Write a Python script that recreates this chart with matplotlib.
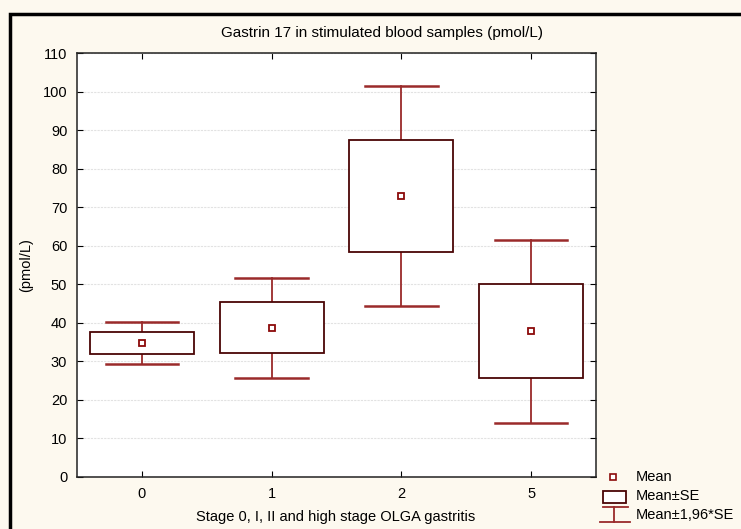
import matplotlib.pyplot as plt
from matplotlib.patches import Rectangle
from matplotlib.lines import Line2D

plt.rcParams['font.family'] = ['Liberation Sans', 'DejaVu Sans']

groups = ['0', '1', '2', '5']
means = [34.7, 38.7, 72.9, 37.8]
se = [2.8, 6.6, 14.6, 12.2]
se196 = [5.5, 12.9, 28.6, 23.8]

W, H = 741, 529
bg = '#fdf9ef'
box_col = '#4a0505'
wh_col = '#9a2a2a'
fs = 10.5

fig = plt.figure(figsize=(W / 100, H / 100), dpi=100, facecolor=bg)

# outer frame
fig.patches.append(Rectangle((10 / W, -0.1), 1.2, (H - 14) / H + 0.1, transform=fig.transFigure,
                             fill=False, edgecolor='black', linewidth=2.5))

ax = fig.add_axes([77 / W, (H - 477) / H, (596 - 77) / W, (477 - 53) / H])
ax.set_facecolor('white')

x = list(range(len(groups)))
for i in x:
    m, s, w = means[i], se[i], se196[i]
    ax.plot([i, i], [m + s, m + w], color=wh_col, lw=1.3, zorder=2)
    ax.plot([i, i], [m - w, m - s], color=wh_col, lw=1.3, zorder=2)
    ax.plot([i - 0.28, i + 0.28], [m + w, m + w], color=wh_col, lw=1.8, zorder=2)
    ax.plot([i - 0.28, i + 0.28], [m - w, m - w], color=wh_col, lw=1.8, zorder=2)
    ax.add_patch(Rectangle((i - 0.4, m - s), 0.8, 2 * s, facecolor='white',
                           edgecolor=box_col, lw=1.3, zorder=3))
ax.plot(x, means, 's', ms=5, mfc='white', mec='#8b0a0a', mew=1.3, zorder=4)

ax.set_xlim(-0.5, 3.5)
ax.set_ylim(0, 110)
ax.set_xticks(x)
ax.set_xticklabels(groups)
ax.set_yticks(range(0, 111, 10))
ax.yaxis.grid(True, color='#e2e2e2', linestyle=(0, (2, 1)), lw=0.8)
ax.set_axisbelow(True)
ax.tick_params(direction='in', top=True, right=True, length=4, labelsize=fs, pad=7,
               color='black')
for sp in ax.spines.values():
    sp.set_linewidth(1.1)
    sp.set_color('#222222')

fig.text(382 / W, 1 - 33 / H, 'Gastrin 17 in stimulated blood samples (pmol/L)',
         ha='center', va='center', fontsize=11)
fig.text(336 / W, 1 - 517 / H, 'Stage 0, I, II and high stage OLGA gastritis',
         ha='center', va='center', fontsize=fs)
fig.text(26 / W, 1 - 265 / H, '(pmol/L)', ha='center', va='center', rotation=90, fontsize=fs)

# legend
def fx(px):
    return px / W

def fy(py):
    return 1 - py / H

fig.lines.append(Line2D([fx(613)], [fy(477)], marker='s', ms=4, mfc='white', mec='#8b0a0a',
                        mew=1.2, transform=fig.transFigure))
fig.text(fx(636), fy(477), 'Mean', va='center', fontsize=fs)
fig.patches.append(Rectangle((fx(603), fy(503)), fx(626) - fx(603), fy(491) - fy(503),
                             transform=fig.transFigure, facecolor='white',
                             edgecolor=box_col, lw=1.3))
fig.text(fx(636), fy(496), 'Mean±SE', va='center', fontsize=fs)
for seg in [([603, 628], [507, 507]), ([614, 614], [507, 522]), ([600, 630], [522, 522])]:
    fig.lines.append(Line2D([fx(v) for v in seg[0]], [fy(v) for v in seg[1]], color=wh_col,
                            lw=1.3, transform=fig.transFigure))
fig.text(fx(636), fy(515), 'Mean±1,96*SE', va='center', fontsize=fs)

fig.savefig('out.png', dpi=100, facecolor=bg)
